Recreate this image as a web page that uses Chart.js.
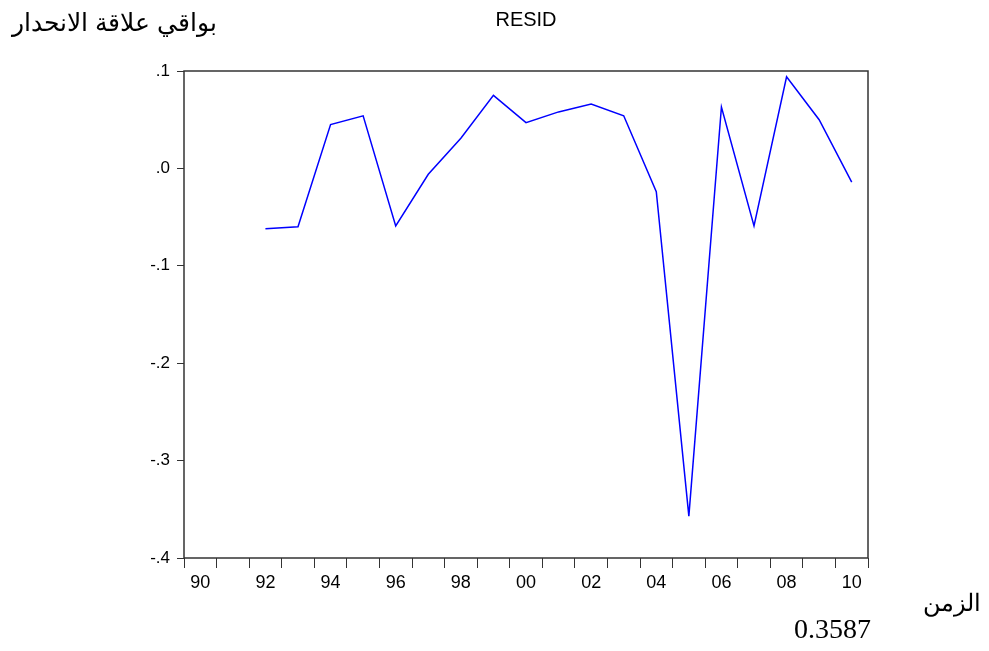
<!DOCTYPE html>
<html>
<head>
<meta charset="utf-8">
<script src="https://cdn.jsdelivr.net/npm/chart.js@4"></script>
<style>
  html, body { margin: 0; padding: 0; background: #fff; }
  #wrap { position: relative; width: 989px; height: 651px; }
  canvas { position: absolute; left: 0; top: 0; }
  .txt { position: absolute; color: #000; white-space: nowrap; line-height: 1.15; }
</style>
</head>
<body>
<div id="wrap">
  <canvas id="resid" width="989" height="651"></canvas>
  <div class="txt" style="left:426px;width:200px;text-align:center;top:8px;font-size:20px;font-family:'Liberation Sans',Arial,sans-serif;">RESID</div>
  <div class="txt" dir="rtl" style="right:772px;top:8px;font-size:25px;font-family:'Liberation Sans',Arial,sans-serif;">بواقي علاقة الانحدار</div>
  <div class="txt" dir="rtl" style="right:8px;top:589px;font-size:24px;font-family:'Liberation Sans',Arial,sans-serif;">الزمن</div>
  <div class="txt" style="left:794px;top:613px;font-size:28px;font-family:'Liberation Serif','Times New Roman',serif;">0.3587</div>
</div>
<script>
// years on the axis and the tick text shown under them
const years = [1990, 1991, 1992, 1993, 1994, 1995, 1996, 1997, 1998, 1999, 2000,
               2001, 2002, 2003, 2004, 2005, 2006, 2007, 2008, 2009, 2010];
const yearLabels = ['90', '', '92', '', '94', '', '96', '', '98', '', '00',
                    '', '02', '', '04', '', '06', '', '08', '', '10'];
// residuals (no values for 1990, 1991)
const resid = [null, null, -0.062, -0.060, 0.045, 0.054, -0.059, -0.006, 0.031, 0.075, 0.047,
               0.058, 0.066, 0.054, -0.024, -0.357, 0.063, -0.059, 0.094, 0.050, -0.014];
const yTicks = [0.1, 0.0, -0.1, -0.2, -0.3, -0.4];

const frame = {
  id: 'frame',
  afterDraw(chart) {
    const a = chart.chartArea;
    const c = chart.ctx;
    c.save();
    c.strokeStyle = '#333';
    c.lineWidth = 1.5;
    c.strokeRect(a.left, a.top, a.right - a.left, a.bottom - a.top);
    c.restore();
  }
};

const fmt = (v) => {
  let s = Math.abs(v) < 1e-9 ? '0.0' : v.toFixed(1);
  return s.replace('0.', '.');
};

new Chart(document.getElementById('resid').getContext('2d'), {
  type: 'line',
  data: {
    labels: years,
    datasets: [{
      label: 'RESID',
      data: resid,
      borderColor: '#0000ff',
      borderWidth: 1.5,
      pointRadius: 0,
      tension: 0,
      fill: false
    }]
  },
  options: {
    responsive: false,
    animation: false,
    layout: { padding: { left: 0, top: 71, right: 121, bottom: 0 } },
    plugins: { legend: { display: false }, tooltip: { enabled: false } },
    scales: {
      x: {
        type: 'category',
        offset: true,
        grid: { offset: true, drawOnChartArea: false, drawTicks: true, tickLength: 10, color: '#333', lineWidth: 1 },
        border: { display: false },
        ticks: {
          autoSkip: false, maxRotation: 0, padding: 4, color: '#000',
          font: { family: "'Liberation Sans', Arial, sans-serif", size: 18 },
          callback: (v, i) => yearLabels[i]
        },
        afterFit: (s) => { s.height = 93; }
      },
      y: {
        min: -0.4, max: 0.1,
        afterBuildTicks: (s) => { s.ticks = yTicks.map(v => ({ value: v })); },
        grid: { drawOnChartArea: false, drawTicks: true, tickLength: 7, color: '#333' },
        border: { display: false },
        ticks: {
          padding: 7, color: '#000',
          font: { family: "'Liberation Sans', Arial, sans-serif", size: 17 },
          callback: (v) => fmt(v)
        },
        afterFit: (s) => { s.width = 184; }
      }
    }
  },
  plugins: [frame]
});
</script>
</body>
</html>
